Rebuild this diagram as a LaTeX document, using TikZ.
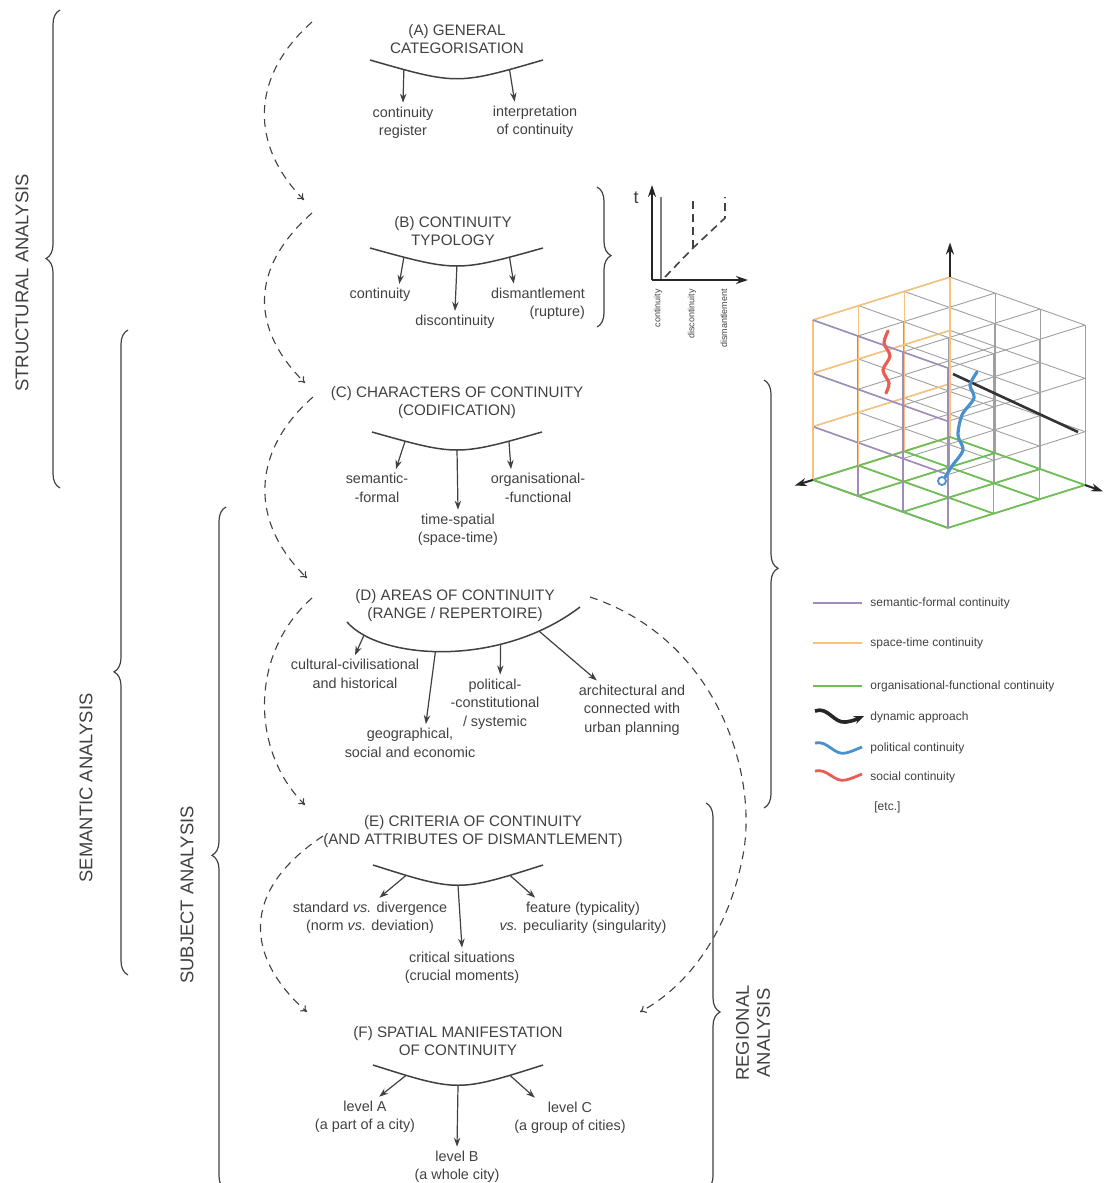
\documentclass[tikz,border=0pt]{standalone}
\usepackage{fontspec}
\setmainfont{Liberation Sans}
\usepackage{tikz}
\usetikzlibrary{arrows, arrows.meta, decorations.pathreplacing}
\definecolor{ink}{RGB}{65,65,65}
\definecolor{semcol}{RGB}{160,140,185}
\definecolor{spacol}{RGB}{245,195,125}
\definecolor{orgcol}{RGB}{110,190,85}
\definecolor{polcol}{RGB}{75,145,205}
\definecolor{soccol}{RGB}{230,95,85}
\tikzstyle{head} = [align=center, text=ink, inner sep=1pt, font=\fontsize{7.6}{9}\selectfont]
\tikzstyle{leaf} = [align=center, text=ink, inner sep=2pt, font=\fontsize{7.2}{9.2}\selectfont]
\tikzstyle{bow} = [draw=ink, line width=0.75pt]
\tikzstyle{arrow} = [draw=ink, line width=0.6pt, -{Stealth[length=4.5pt, width=3.2pt]}]
\tikzstyle{flow} = [draw=ink, line width=0.55pt, dash pattern=on 4pt off 3pt, -{To[length=3pt, width=4pt]}]
\tikzstyle{grp} = [draw=ink, line width=0.6pt, decorate]
\tikzstyle{side} = [text=ink, rotate=90, align=center, font=\fontsize{9.2}{10.5}\selectfont]
\tikzstyle{tiny} = [text=ink, rotate=90, anchor=east, inner sep=0.5pt, font=\fontsize{4.5}{5}\selectfont]
\tikzstyle{keytext} = [text=ink, anchor=west, inner sep=1pt, font=\fontsize{6}{7}\selectfont]
\tikzstyle{cubeline} = [draw=gray!75, line width=0.45pt]
\tikzstyle{semform} = [draw=semcol, line width=0.8pt]
\tikzstyle{spatime} = [draw=spacol, line width=0.8pt]
\tikzstyle{orgfun} = [draw=orgcol, line width=0.9pt]
\tikzstyle{ax} = [draw=black!85, line width=1pt, -{Stealth[length=6pt, width=4pt]}]

\begin{document}
\begin{tikzpicture}[x=0.5pt, y=-0.5pt]
\useasboundingbox (0,0) rectangle (1103,1183);
\clip (0,0) rectangle (1103,1183);

% section headings
\node (headA) [head] at (457,39) {(A) GENERAL\\CATEGORISATION};
\node (headB) [head] at (453,231) {(B) CONTINUITY\\TYPOLOGY};
\node (headC) [head] at (457,403) {(C) CHARACTERS OF CONTINUITY\\(CODIFICATION)};
\node (headD) [head] at (455,606) {(D) AREAS OF CONTINUITY\\(RANGE / REPERTOIRE)};
\node (headE) [head] at (473,832) {(E) CRITERIA OF CONTINUITY\\(AND ATTRIBUTES OF DISMANTLEMENT)};
\node (headF) [head] at (458,1041) {(F) SPATIAL MANIFESTATION\\OF CONTINUITY};

% bows under the headings
\draw [bow] (370,60) .. controls (457,85) .. (543,60)
  coordinate[pos=.15] (bowAl) coordinate[pos=.85] (bowAr);
\draw [bow] (370,248) .. controls (457,272) .. (543,248)
  coordinate[pos=.15] (bowBl) coordinate[pos=.5] (bowBm) coordinate[pos=.85] (bowBr);
\draw [bow] (372,432) .. controls (457,456) .. (542,432)
  coordinate[pos=.15] (bowCl) coordinate[pos=.5] (bowCm) coordinate[pos=.85] (bowCr);
\draw [bow] (347,622) .. controls (380,660) and (500,668) .. (580,607)
  coordinate[pos=.13] (bowDa) coordinate[pos=.46] (bowDb) coordinate[pos=.7] (bowDc) coordinate[pos=.84] (bowDd);
\draw [bow] (373,865) .. controls (458,892) .. (543,865)
  coordinate[pos=.15] (bowEl) coordinate[pos=.5] (bowEm) coordinate[pos=.85] (bowEr);
\draw [bow] (373,1065) .. controls (458,1092) .. (543,1065)
  coordinate[pos=.15] (bowFl) coordinate[pos=.5] (bowFm) coordinate[pos=.85] (bowFr);

% leaves
\node (regA) [leaf] at (403,123) {continuity\\register};
\node (intA) [leaf] at (535,122) {interpretation\\of continuity};
\node (contB) [leaf] at (380,295) {continuity};
\node (discB) [leaf] at (455,322) {discontinuity};
\node (dismB) [leaf, align=right] at (538,304) {dismantlement\\(rupture)};
\node (semC) [leaf] at (377,488) {semantic-\\-formal};
\node (orgC) [leaf] at (538,488) {organisational-\\-functional};
\node (timeC) [leaf] at (458,530) {time-spatial\\(space-time)};
\node (cultD) [leaf] at (355,674) {cultural-civilisational\\and historical};
\node (geoD) [leaf] at (410,743) {geographical,\\social and economic};
\node (polD) [leaf] at (495,704) {political-\\-constitutional\\/ systemic};
\node (archD) [leaf] at (632,710) {architectural and\\connected with\\urban planning};
\node (stdE) [leaf] at (370,918) {standard \emph{vs.} divergence\\(norm \emph{vs.} deviation)};
\node (featE) [leaf] at (583,918) {feature (typicality)\\\emph{vs.} peculiarity (singularity)};
\node (critE) [leaf] at (462,968) {critical situations\\(crucial moments)};
\node (lvlA) [leaf] at (365,1117) {level A\\(a part of a city)};
\node (lvlC) [leaf] at (570,1118) {level C\\(a group of cities)};
\node (lvlB) [leaf] at (457,1167) {level B\\(a whole city)};

\draw [arrow] (bowAl) -- (regA.north);
\draw [arrow] (bowAr) -- (intA.135);
\draw [arrow] (bowBl) -- (contB.30);
\draw [arrow] (bowBm) -- (discB.north);
\draw [arrow] (bowBr) -- (dismB.140);
\draw [arrow] (bowCl) -- (semC.45);
\draw [arrow] (bowCm) -- (timeC.north);
\draw [arrow] (bowCr) -- (orgC.145);
\draw [arrow] (bowDa) -- (cultD.north);
\draw [arrow] (bowDb) -- (geoD.50);
\draw [arrow] (bowDc) -- (polD.80);
\draw [arrow] (bowDd) -- (archD.140);
\draw [arrow] (bowEl) -- (stdE.65);
\draw [arrow] (bowEm) -- (critE.north);
\draw [arrow] (bowEr) -- (featE.157);
\draw [arrow] (bowFl) -- (lvlA.55);
\draw [arrow] (bowFm) -- (lvlB.north);
\draw [arrow] (bowFr) -- (lvlC.150);

% dashed flow between the steps
\coordinate (fA0) at (312,22);
\coordinate (fB1) at (304,200);
\coordinate (fB0) at (312,213);
\coordinate (fC1) at (305,383);
\coordinate (fC0) at (313,397);
\coordinate (fD1) at (307,578);
\coordinate (fD0) at (312,598);
\coordinate (fE1) at (305,805);
\coordinate (fE0) at (323,836);
\coordinate (fF1) at (307,1012);
\coordinate (fR0) at (590,597);
\coordinate (fR1) at (640,1012);
\draw [flow] (fA0) .. controls (250,77) and (250,145) .. (fB1);
\draw [flow] (fB0) .. controls (250,268) and (250,328) .. (fC1);
\draw [flow] (fC0) .. controls (250,452) and (250,523) .. (fD1);
\draw [flow] (fD0) .. controls (250,653) and (250,750) .. (fE1);
\draw [flow] (fE0) .. controls (240,891) and (245,957) .. (fF1);
\draw [flow] (fR0) .. controls (720,640) and (760,780) .. (742,860) .. controls (728,930) and (690,985) .. (fR1);

% braces and analysis labels
\draw [grp, decoration={brace, amplitude=7pt, aspect=0.48}] (60,488) -- (60,10);
\draw [grp, decoration={brace, amplitude=7pt, aspect=0.47}] (128,975) -- (128,330);
\draw [grp, decoration={brace, amplitude=7pt, aspect=0.49}] (226,1190) -- (226,507);
\draw [grp, decoration={brace, amplitude=7pt, aspect=0.49}] (597,187) -- (597,327);
\draw [grp, decoration={brace, amplitude=7pt, aspect=0.44}] (764,380) -- (764,808);
\draw [grp, decoration={brace, amplitude=7pt, aspect=0.54}] (706,803) -- (706,1190);
\node (labStruct) [side] at (22,283) {STRUCTURAL ANALYSIS};
\node (labSem) [side] at (86,788) {SEMANTIC ANALYSIS};
\node (labSubj) [side] at (187,895) {SUBJECT ANALYSIS};
\node (labReg) [side] at (753,1033) {REGIONAL\\ANALYSIS};

% small time graph
\node (tLab) [text=ink, font=\fontsize{9}{9}\selectfont] at (636,198) {t};
\draw [ax] (652,280) -- (652,185);
\draw [draw=gray, line width=0.9pt] (661,280) -- (661,197);
\draw [ax] (652,280) -- (748,280);
\draw [draw=ink, line width=0.8pt, dash pattern=on 4pt off 2.5pt] (665,277) -- (693,248) -- (725,218) -- (725,197);
\draw [draw=ink, line width=0.8pt, dash pattern=on 4pt off 2.5pt] (693,248) -- (693,197);
\node (gCont) [tiny] at (658,288) {continuity};
\node (gDisc) [tiny] at (692,288) {discontinuity};
\node (gDism) [tiny] at (724,288) {dismantlement};

% cube of continuity
\begin{scope}[shift={(950,437)}, x={(-22.85pt,-7.15pt)}, y={(22.5pt,-8pt)}, z={(0pt,26.65pt)}]
\foreach \p in {0,...,3}{
  \foreach \q in {0,...,3}{
    \draw [cubeline] (0,\p,\q) -- (3,\p,\q);
    \draw [cubeline] (\p,0,\q) -- (\p,3,\q);
    \draw [cubeline] (\p,\q,0) -- (\p,\q,3);
  }
}
\foreach \p in {0,...,3}{
  \draw [spatime] (0,0,\p) -- (3,0,\p);
  \draw [spatime] (\p,0,0) -- (\p,0,3);
  \draw [orgfun] (0,\p,0) -- (3,\p,0);
  \draw [orgfun] (\p,0,0) -- (\p,3,0);
  \draw [semform] (3,0,\p) -- (3,3,\p);
  \draw [semform] (3,\p,0) -- (3,\p,3);
}
\draw [ax] (0,0,3) -- (0,0,3.65);
\draw [ax] (3,0,0) -- (3.4,0,0);
\draw [ax] (0,3,0) -- (0,3.4,0);
\end{scope}
\draw [draw=black!80, line width=1.3pt] (953,374) -- (1078,432);
\draw [draw=soccol, line width=1.6pt, line cap=round] plot[smooth] coordinates {(888,331) (884,343) (890,356) (883,370) (889,383) (886,393)};
\draw [draw=polcol, line width=1.6pt, line cap=round] plot[smooth] coordinates {(977,372) (970,385) (974,398) (962,415) (958,435) (963,450) (952,466) (944,479)};
\draw [draw=polcol, line width=0.9pt, fill=white] (942,481) circle (2pt);

% legend
\draw [semform, line width=1pt] (813,603) -- (862,603);
\node (lgSem) [keytext] at (868,603) {semantic-formal continuity};
\draw [spatime, line width=1pt] (813,643) -- (862,643);
\node (lgSpa) [keytext] at (868,643) {space-time continuity};
\draw [orgfun, line width=1pt] (813,686) -- (862,686);
\node (lgOrg) [keytext] at (868,686) {organisational-functional continuity};
\draw [draw=black!85, line width=1.8pt, -{Stealth[length=5pt, width=4pt]}] (815,711) .. controls (828,706) and (834,724) .. (846,722) .. controls (853,721) and (857,719) .. (864,716);
\node (lgDyn) [keytext] at (868,717) {dynamic approach};
\draw [draw=polcol, line width=1.4pt] (815,743) .. controls (828,740) and (834,756) .. (846,753) .. controls (853,751) and (857,749) .. (862,747);
\node (lgPol) [keytext] at (868,748) {political continuity};
\draw [draw=soccol, line width=1.4pt] (815,771) .. controls (828,768) and (834,783) .. (846,780) .. controls (853,778) and (857,776) .. (862,774);
\node (lgSoc) [keytext] at (868,777) {social continuity};
\node (lgEtc) [keytext] at (872,807) {[etc.]};
\end{tikzpicture}
\end{document}
